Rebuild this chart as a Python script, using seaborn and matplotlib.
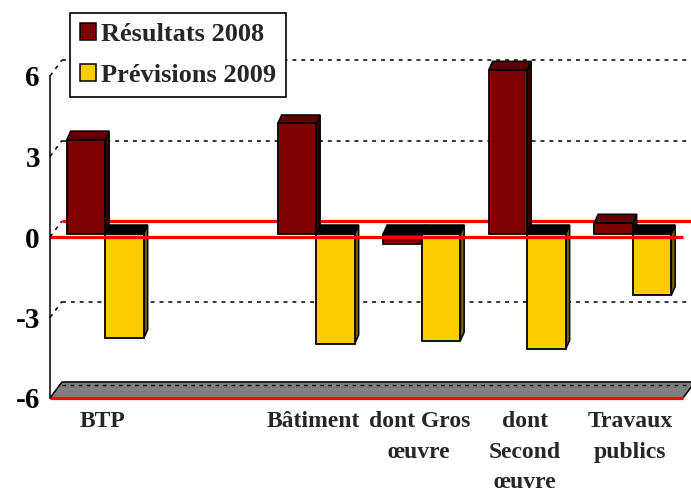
import matplotlib
matplotlib.use("Agg")
import matplotlib.pyplot as plt
import pandas as pd
import seaborn as sns
from matplotlib.patches import Polygon, Patch
from matplotlib.colors import to_rgba

# ---- data -------------------------------------------------------------
categories = ["BTP", " ", "Bâtiment", "dont Gros\nœuvre", "dont\nSecond\nœuvre", "Travaux\npublics"]
series = ["Résultats 2008", "Prévisions 2009"]
resultats_2008 = [3.5, None, 4.1, -0.4, 6.1, 0.4]
previsions_2009 = [-3.9, None, -4.1, -4.0, -4.3, -2.3]
y_ticks = [-6, -3, 0, 3, 6]

front_col = {"Résultats 2008": "#800000", "Prévisions 2009": "#FFCC00"}
top_col = {"Résultats 2008": "#600000", "Prévisions 2009": "#000000"}
side_col = {"Résultats 2008": "#3a0000", "Prévisions 2009": "#7a6200"}

rows = []
for name, vals in zip(series, [resultats_2008, previsions_2009]):
    for cat, v in zip(categories, vals):
        if v is not None:
            rows.append({"categorie": cat, "serie": name, "valeur": v})
df = pd.DataFrame(rows)

# ---- figure -----------------------------------------------------------
sns.set_style("white")
plt.rcParams["font.family"] = ["Liberation Serif", "DejaVu Serif"]
plt.rcParams["font.weight"] = "bold"

W, H = 691, 493
fig = plt.figure(figsize=(W / 100, H / 100), dpi=100)
ax_l, ax_r, ax_t, ax_b = 50, 683, 76, 398
ax = fig.add_axes([ax_l / W, 1 - ax_b / H, (ax_r - ax_l) / W, (ax_b - ax_t) / H])

sns.barplot(data=df, x="categorie", y="valeur", hue="serie", order=categories,
            hue_order=series, palette=[front_col[s] for s in series],
            saturation=1, width=0.73, errorbar=None, edgecolor="black",
            linewidth=1.3, legend=False, ax=ax)

ax.set_xlim(-0.5, 5.5)
ax.set_ylim(-6, 6)

# pixel -> data unit conversion for the oblique depth effect
ux = 6.0 / (ax_r - ax_l)
uy = 12.0 / (ax_b - ax_t)
WX, WY = 12 * ux, 16 * uy      # depth of the back wall
BX, BY = 2.6 * ux, 3.5 * uy    # plane on which the columns stand
DX, DY = 3.8 * ux, 8.5 * uy    # depth of each column

dash = (0, (2.6, 3.2))

# back wall gridlines and side-wall diagonals
for v in [6, 3, -3]:
    ax.plot([-0.5 + WX, 6.5], [v + WY, v + WY], color="black", lw=1.1,
            linestyle=dash, zorder=0.5, clip_on=False)
for v in [6, 3, 0, -3]:
    ax.plot([-0.5, -0.5 + WX], [v, v + WY], color="black", lw=1.1,
            linestyle=dash, zorder=0.5, clip_on=False)

# back zero line
ax.plot([-0.5 + WX, 6.5], [WY, WY], color="#FF0000", lw=2.3, zorder=1,
        clip_on=False, solid_capstyle="butt")

# floor
floor = Polygon([(-0.5, -6), (5.5, -6), (5.5 + WX, -6 + WY), (-0.5 + WX, -6 + WY)],
                closed=True, facecolor="#808080", edgecolor="black", lw=1.1,
                zorder=1, clip_on=False)
ax.add_patch(floor)
ax.plot([-0.5 + WX, 5.5 + WX], [-6 + WY - 2.5 * uy] * 2, color="black", lw=1.0,
        linestyle=dash, zorder=1.1, clip_on=False)
ax.plot([-0.5, 5.5], [-6, -6], color="#FF0000", lw=2.3, zorder=1.2,
        clip_on=False, solid_capstyle="butt")

# columns with top and side faces
red_rgba = to_rgba(front_col[series[0]])
for p in list(ax.patches):
    if p is floor:
        continue
    name = series[0] if all(abs(a - b) < 0.02 for a, b in zip(p.get_facecolor(), red_rgba)) else series[1]
    z = 3 if name == series[0] else 4
    x0 = p.get_x() + BX
    w = p.get_width()
    h = p.get_height()
    x1 = x0 + w
    base = p.get_y() + BY
    top = base + h
    p.set_x(x0)
    p.set_y(base)
    p.set_zorder(z)
    p.set_clip_on(False)
    if h >= 0:
        side = [(x1, base), (x1, top), (x1 + DX, top + DY), (x1 + DX, base + DY)]
        cap = [(x0, top), (x1, top), (x1 + DX, top + DY), (x0 + DX, top + DY)]
        cap_c = top_col[series[0]] if name == series[0] else "#000000"
    else:
        side = [(x1, top), (x1, base), (x1 + DX, base + DY), (x1 + DX, top + DY)]
        cap = [(x0, base), (x1, base), (x1 + DX, base + DY), (x0 + DX, base + DY)]
        cap_c = "#000000"
    ax.add_patch(Polygon(side, closed=True, facecolor=side_col[name],
                         edgecolor="black", lw=1.1, zorder=z - 0.05, clip_on=False))
    ax.add_patch(Polygon(cap, closed=True, facecolor=cap_c,
                         edgecolor="black", lw=1.1, zorder=z - 0.04, clip_on=False))

# front zero line drawn over the columns
ax.plot([-0.5, 5.5], [0, 0], color="#FF0000", lw=2.3, zorder=6,
        clip_on=False, solid_capstyle="butt")

# axes styling
for s in ["top", "right", "bottom"]:
    ax.spines[s].set_visible(False)
ax.spines["left"].set_color("black")
ax.spines["left"].set_linewidth(1.1)
ax.spines["left"].set_zorder(7)
ax.set_yticks(y_ticks)
ax.set_yticklabels([str(t) for t in y_ticks], fontsize=21, fontweight="bold")
ax.tick_params(axis="y", direction="out", length=4.3, width=1.1, pad=3, colors="black")
ax.set_xticks(range(len(categories)))
ax.set_xticklabels(categories, fontsize=17, fontweight="bold", linespacing=1.6)
ax.tick_params(axis="x", length=0, pad=9.5)
ax.set_xlabel("")
ax.set_ylabel("")
ax.set_facecolor("none")
fig.patch.set_facecolor("white")

# legend
handles = [Patch(facecolor=front_col[s], edgecolor="black", lw=1.1, label=s) for s in series]
leg = fig.legend(handles=handles, loc="upper left",
                 bbox_to_anchor=(70 / W, 1 - 13 / H), bbox_transform=fig.transFigure,
                 frameon=True, fancybox=False, edgecolor="black", framealpha=1,
                 prop={"family": "Liberation Serif", "weight": "bold", "size": 19},
                 handlelength=0.6, handleheight=0.6, handletextpad=0.2,
                 labelspacing=0.68, borderpad=0.38, borderaxespad=0)
leg.get_frame().set_linewidth(1.2)
leg.set_zorder(20)

fig.savefig("out.png", dpi=100)
